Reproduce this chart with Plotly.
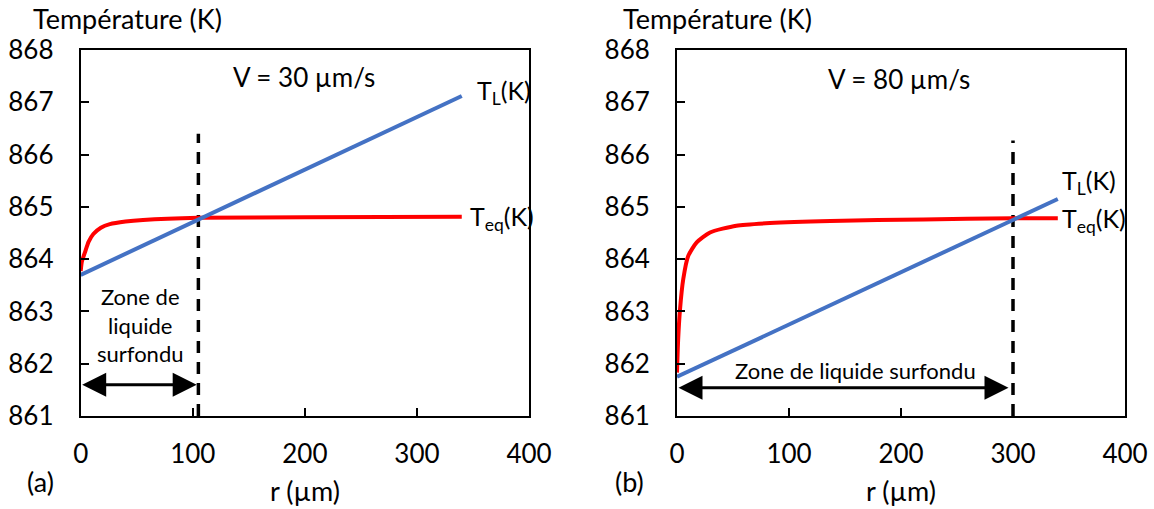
import plotly.graph_objects as go

# ---------------- data ----------------
# Panel (a) V = 30 µm/s
r_eq_a = [0, 1, 3.8, 7, 11.3, 18, 26, 40, 55.6, 105, 200, 340]
T_eq_a = [863.77, 863.95, 864.13, 864.33, 864.48, 864.60, 864.67, 864.72, 864.75, 864.79, 864.80, 864.81]
r_L_a = [0, 340]
T_L_a = [863.70, 867.12]
r_cross_a = 105
T_dash_top_a = 866.4

# Panel (b) V = 80 µm/s
r_eq_b = [0, 1, 2.7, 5.6, 10, 17.6, 29.5, 53, 83, 137, 220, 300, 340]
T_eq_b = [861.83, 862.45, 863.04, 863.62, 864.06, 864.32, 864.51, 864.64, 864.69, 864.73, 864.76, 864.78, 864.78]
r_L_b = [0, 340]
T_L_b = [861.75, 865.15]
r_cross_b = 300
T_dash_top_b = 866.27

x_ticks = [0, 100, 200, 300, 400]
y_ticks = [861, 862, 863, 864, 865, 866, 867, 868]

BLUE = "#4472C4"
RED = "#FF0000"
FONT = "Lato"

W, H = 1154, 509
def px(x):
    return x / W
def py(y):
    return 1 - y / H

fig = go.Figure()

for xa, ya, r_eq, T_eq, r_L, T_L, rc, top in [
    ("x", "y", r_eq_a, T_eq_a, r_L_a, T_L_a, r_cross_a, T_dash_top_a),
    ("x2", "y2", r_eq_b, T_eq_b, r_L_b, T_L_b, r_cross_b, T_dash_top_b),
]:
    fig.add_trace(go.Scatter(x=[rc, rc], y=[861, top], mode="lines", xaxis=xa, yaxis=ya,
                             line=dict(color="black", width=3.5, dash="12px,9px"), showlegend=False))
    fig.add_trace(go.Scatter(x=r_eq, y=T_eq, mode="lines", xaxis=xa, yaxis=ya,
                             line=dict(color=RED, width=4, shape="spline", smoothing=0.6), showlegend=False))
    fig.add_trace(go.Scatter(x=r_L, y=T_L, mode="lines", xaxis=xa, yaxis=ya,
                             line=dict(color=BLUE, width=4), showlegend=False))

axis_common = dict(showgrid=False, zeroline=False, showline=True, linecolor="black", linewidth=2,
                   mirror=True, ticks="inside", ticklen=8, tickwidth=2, tickcolor="black",
                   automargin=False,
                   tickfont=dict(family=FONT, size=26, color="black"))

dom_y = [py(416), py(50)]
fig.update_layout(
    template="none",
    width=W, height=H,
    margin=dict(l=0, r=0, t=0, b=0, pad=0),
    plot_bgcolor="white", paper_bgcolor="white",
    xaxis=dict(domain=[px(80.7), px(529)], range=[0, 400], tickvals=x_ticks, anchor="y",
               ticklabelstandoff=14, **axis_common),
    yaxis=dict(domain=dom_y, range=[861, 868], tickvals=y_ticks, anchor="x",
               ticklabelstandoff=20, **axis_common),
    xaxis2=dict(domain=[px(677), px(1125)], range=[0, 400], tickvals=x_ticks, anchor="y2",
                ticklabelstandoff=14, **axis_common),
    yaxis2=dict(domain=dom_y, range=[861, 868], tickvals=y_ticks, anchor="x2",
                ticklabelstandoff=20, **axis_common),
)

tf = dict(family=FONT, size=27, color="black")
vf = dict(family=FONT, size=26, color="black")
lf = dict(family=FONT, size=25, color="black")
sf = dict(family=FONT, size=22, color="black")
C = dict(xanchor="center", yanchor="middle", showarrow=False)
ann = []
# axis titles
ann.append(dict(text="Température (K)", xref="paper", yref="paper", x=px(127), y=py(18), font=tf, **C))
ann.append(dict(text="Température (K)", xref="paper", yref="paper", x=px(717), y=py(18), font=tf, **C))
ann.append(dict(text="r (µm)", xref="paper", yref="paper", x=px(305), y=py(490), font=tf, **C))
ann.append(dict(text="r (µm)", xref="paper", yref="paper", x=px(901), y=py(490), font=tf, **C))
ann.append(dict(text="(a)", xref="paper", yref="paper", x=px(40), y=py(481), font=tf, **C))
ann.append(dict(text="(b)", xref="paper", yref="paper", x=px(630), y=py(481), font=tf, **C))
# panel texts
ann.append(dict(text="V = 30 µm/s", xref="x", yref="y", x=199, y=867.48, font=vf, **C))
ann.append(dict(text="V = 80 µm/s", xref="x2", yref="y2", x=198, y=867.45, font=vf, **C))
ann.append(dict(text="T<sub>L</sub>(K)", xref="x", yref="y", x=352, y=867.2, xanchor="left",
                yanchor="middle", showarrow=False, font=lf))
ann.append(dict(text="T<sub>eq</sub>(K)", xref="x", yref="y", x=346, y=864.78, xanchor="left",
                yanchor="middle", showarrow=False, font=lf))
ann.append(dict(text="T<sub>L</sub>(K)", xref="x2", yref="y2", x=342, y=865.48, xanchor="left",
                yanchor="middle", showarrow=False, font=lf))
ann.append(dict(text="T<sub>eq</sub>(K)", xref="x2", yref="y2", x=342, y=864.74, xanchor="left",
                yanchor="middle", showarrow=False, font=lf))
ann.append(dict(text="Zone de<br>liquide<br>surfondu", xref="x", yref="y", x=53, y=862.75, font=sf, **C))
ann.append(dict(text="Zone de liquide surfondu", xref="x2", yref="y2", x=159, y=861.87, font=sf, **C))
# double arrows
ann.append(dict(x=103.5, y=861.6, ax=0, ay=861.6, xref="x", yref="y", axref="x", ayref="y",
                text="", showarrow=True, arrowhead=2, startarrowhead=2, arrowside="end+start",
                arrowwidth=3, arrowsize=1.6, startarrowsize=1.6, arrowcolor="black"))
ann.append(dict(x=296, y=861.54, ax=0, ay=861.54, xref="x2", yref="y2", axref="x2", ayref="y2",
                text="", showarrow=True, arrowhead=2, startarrowhead=2, arrowside="end+start",
                arrowwidth=3, arrowsize=1.6, startarrowsize=1.6, arrowcolor="black"))
fig.update_layout(annotations=ann)

fig.write_html("out.html")
